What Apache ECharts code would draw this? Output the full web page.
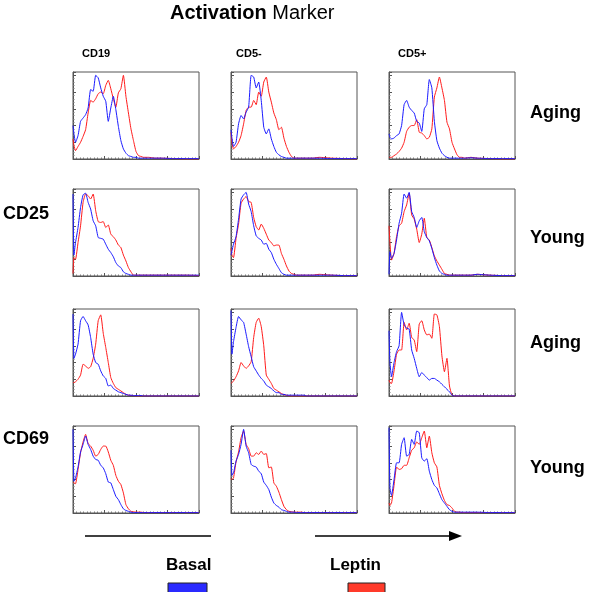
<!DOCTYPE html>
<html>
<head>
<meta charset="utf-8">
<script src="https://cdn.jsdelivr.net/npm/echarts@6/dist/echarts.min.js"></script>
<style>
html,body{margin:0;padding:0;background:#fff;}
#chart{width:600px;height:592px;}
</style>
</head>
<body>
<div id="chart"></div>
<script>
// ---- Data (x: fluorescence in log decades 0..4; y: relative count, peak = 100) ----
var decades = [0, 0.03, 0.08, 0.16, 0.24, 0.32, 0.40, 0.48, 0.56, 0.64, 0.72, 0.80, 0.88, 0.96, 1.04, 1.12, 1.20, 1.28, 1.36, 1.44, 1.52, 1.60, 1.68, 1.76, 1.84, 1.92, 2.00, 2.08, 2.16, 2.24, 2.32, 2.40, 2.60, 2.80, 3.20, 3.60, 4.00];

var columnLabels = ['CD19', 'CD5-', 'CD5+'];
var rowLabels = ['Aging', 'Young', 'Aging', 'Young'];
var markerLabels = ['CD25', 'CD69'];
var legendLabels = ['Basal', 'Leptin'];

// CD25 - Aging
var cd25AgingCD19Basal  = [40,30,20,28,45,49,53,61,83,81,100,97,85,75,69,45,61,75,59,39,22,12,7,4,3,2,2,1,1,1,1,1,1,1,0.5,0.5,0.5];
var cd25AgingCD19Leptin = [24,16,10,15,20,27,35,55,70,68,72,78,80,78,88,94,84,72,62,79,84,100,75,55,36,22,9,4,3,2,2,2,1,1,0.5,0,0];
var cd25AgingCD5nBasal  = [35,25,15,20,42,52,48,56,62,100,98,85,92,70,38,30,36,24,15,8,5,3,2,1,1,1,1,1,1,1,1,1,1,1,0.5,0.5,0.5];
var cd25AgingCD5nLeptin = [32,20,12,15,20,28,42,58,62,62,70,65,80,75,92,98,80,68,55,47,35,38,25,15,8,3,1,1,1,1,1,1,1,2,1,0.5,0];
var cd25AgingCD5pBasal  = [30,26,24,25,28,30,40,65,70,62,58,55,45,43,33,60,65,95,85,45,22,13,7,4,2,1,1,1,1,1,1,1,1.5,1,0.5,0.5,0.5];
var cd25AgingCD5pLeptin = [2,2,2,4,6,9,13,20,33,38,40,40,47,32,31,28,24,26,36,74,85,98,85,70,44,36,20,12,5,2,2,1,2,1,0.5,0,0];
// CD25 - Young
var cd25YoungCD19Basal  = [98,25,40,58,82,97,99,88,80,66,60,46,45,44,38,32,28,23,16,12,10,5,3,2,1,1,1,1,1,1,1,1,1,1,1,1,1];
var cd25YoungCD19Leptin = [3,22,20,40,60,88,98,96,92,98,78,65,64,65,58,61,50,47,43,37,34,25,18,10,5,1,1,1,1,1,1,1,1,1,1,1,0.5];
var cd25YoungCD5nBasal  = [25,30,38,47,68,92,97,100,86,77,60,48,45,43,38,39,32,28,20,14,9,4,2,1,1,1,1,1,1,1,1,1,1,1,1,0.5,0.5];
var cd25YoungCD5nLeptin = [33,25,22,45,62,87,92,95,89,88,70,59,55,62,57,50,43,40,36,37,37,27,20,12,6,3,2,1,1,1,1,1,1,2,1,0.5,0.5];
var cd25YoungCD5pBasal  = [2,29,21,27,43,63,75,98,93,100,77,70,58,66,70,53,46,42,33,22,13,6,3,2,1,1,1,1,1,1,1,1,1,2,1,0.5,0.5];
var cd25YoungCD5pLeptin = [60,40,19,27,47,60,63,77,85,99,73,68,56,40,50,69,46,43,34,24,18,13,8,3,2,1,1,1,1,1,1,1,1,2,1,0.5,0.5];
// CD69 - Aging
var cd69AgingCD19Basal  = [98,45,50,62,90,95,90,85,70,50,40,38,30,24,21,12,13,9,7,5,4,3,2,1,1,0.5,0.5,0.5,0.5,0,0,0,0,0,0,0,0];
var cd69AgingCD19Leptin = [16,16,17,20,25,38,36,33,35,45,62,90,97,75,58,40,22,15,10,8,6,4,2,1,0.5,0.5,0,0,0,0,0,0,0,0,0,0,0];
var cd69AgingCD5nBasal  = [102,50,65,82,95,91,88,74,59,47,35,30,25,21,18,13,11,9,6,4,4,2,2,1,1,1,1,1,1,1,1,0,0,0,0,0,0];
var cd69AgingCD5nLeptin = [15,16,18,23,30,40,36,33,36,41,70,88,93,83,60,25,20,15,9,7,5,3,1.5,1,0,0,0,0,0,0,0,0,0,0,0,0,0];
var cd69AgingCD5pBasal  = [78,40,23,40,53,60,100,85,81,80,55,45,33,23,28,25,22,19,21,21,19,17,14,11,8,5,1,0,0,0,0,0,0,0,0,0,0];
var cd69AgingCD5pLeptin = [19,16,15,30,50,55,55,88,79,87,70,67,53,86,90,79,73,74,69,98,97,83,48,29,45,12,1,0,0,0,0,0,0,0,0,0,0];
// CD69 - Young
var cd69YoungCD19Basal  = [100,38,42,55,73,82,92,82,76,68,64,63,57,54,47,37,36,28,20,16,10,5,3,2,1,0.5,0.5,0.5,0.5,0.5,0.5,0.5,0.5,0.5,0.5,0.5,0.5];
var cd69YoungCD19Leptin = [37,36,35,52,72,85,94,83,80,75,68,70,76,80,80,73,63,57,45,38,34,24,10,5,2,1.5,1,1,1,0.5,0.5,0.5,0.5,0.5,0.5,0.5,0.5];
var cd69YoungCD5nBasal  = [75,45,48,62,70,82,100,80,72,58,56,55,50,47,37,33,28,19,12,9,7,4,3,2,1,1,1,0.5,0.5,0.5,0.5,0.5,0.5,0.5,0.5,0.5,0.5];
var cd69YoungCD5nLeptin = [41,40,42,61,73,90,98,82,77,68,68,72,70,74,70,71,54,55,36,32,25,16,8,4,2,1.5,1,1,1,1,0.5,0.5,0.5,0.5,0.5,0.5,0.5];
var cd69YoungCD5pBasal  = [102,30,21,40,60,60,82,90,68,70,88,82,98,96,66,62,65,50,40,33,30,23,16,12,8,4,2,1,1,1,1,1,1,1,0.5,0.5,0.5];
var cd69YoungCD5pLeptin = [12,9,12,33,55,52,53,57,57,66,75,78,85,82,90,98,78,92,72,60,55,33,23,15,10,9,6,2,1,1,0.5,0.5,0.5,0.5,0.5,0.5,0.5];

var panelRows = [
  [[cd25AgingCD19Basal, cd25AgingCD19Leptin], [cd25AgingCD5nBasal, cd25AgingCD5nLeptin], [cd25AgingCD5pBasal, cd25AgingCD5pLeptin]],
  [[cd25YoungCD19Basal, cd25YoungCD19Leptin], [cd25YoungCD5nBasal, cd25YoungCD5nLeptin], [cd25YoungCD5pBasal, cd25YoungCD5pLeptin]],
  [[cd69AgingCD19Basal, cd69AgingCD19Leptin], [cd69AgingCD5nBasal, cd69AgingCD5nLeptin], [cd69AgingCD5pBasal, cd69AgingCD5pLeptin]],
  [[cd69YoungCD19Basal, cd69YoungCD19Leptin], [cd69YoungCD5nBasal, cd69YoungCD5nLeptin], [cd69YoungCD5pBasal, cd69YoungCD5pLeptin]]
];

// ---- Layout ----
var colLeft = [73, 231, 389];
var rowTop = [72, 189, 309, 426];
var panelW = 126, panelH = 87;
var blue = '#1a1aff', red = '#ff1a1a', frame = '#555';
var font = '"Liberation Sans", Arial, sans-serif';

var grids = [], xAxes = [], yAxes = [], series = [];
var idx = 0;
for (var r = 0; r < 4; r++) {
  for (var c = 0; c < 3; c++) {
    grids.push({left: colLeft[c], top: rowTop[r], width: panelW, height: panelH,
      show: true, borderColor: frame, borderWidth: 1, backgroundColor: '#fff'});
    xAxes.push({gridIndex: idx, type: 'value', min: 0, max: 4, interval: 1,
      axisLine: {show: true, lineStyle: {color: frame, width: 1}},
      axisTick: {show: true, inside: true, length: 3, lineStyle: {color: frame}},
      minorTick: {show: true, splitNumber: 9, length: 1.5, lineStyle: {color: '#777'}},
      axisLabel: {show: false}, splitLine: {show: false}});
    yAxes.push({gridIndex: idx, type: 'value', min: 0, max: 104, interval: 20,
      axisLine: {show: true, lineStyle: {color: frame, width: 1}},
      axisTick: {show: true, inside: true, length: 3, lineStyle: {color: frame}},
      minorTick: {show: true, splitNumber: 5, length: 1.5, lineStyle: {color: '#777'}},
      axisLabel: {show: false}, splitLine: {show: false}});
    var pair = panelRows[r][c];
    [[pair[0], blue, legendLabels[0]], [pair[1], red, legendLabels[1]]].forEach(function (s, k) {
      series.push({type: 'line', name: s[2], xAxisIndex: idx, yAxisIndex: idx,
        data: decades.map(function (x, i) { return [x, s[0][i]]; }),
        showSymbol: false, symbol: 'none', smooth: 0.15,
        lineStyle: {color: s[1], width: 1}, z: k === 0 ? 3 : 2, animation: false});
    });
    idx++;
  }
}

var graphics = [];
function txt(x, y, text, size, weight) {
  return {type: 'text', left: x, top: y, silent: true,
    style: {text: text, font: (weight || 'bold') + ' ' + size + 'px ' + font, fill: '#000'}};
}
graphics.push({type: 'text', left: 170, top: 3, silent: true,
  style: {text: '{b|Activation} Marker', font: 'normal 20px ' + font, fill: '#000',
    rich: {b: {fontWeight: 'bold', fontSize: 20, fontFamily: font}}}});
var colLabelX = [82, 236, 398];
columnLabels.forEach(function (t, i) { graphics.push(txt(colLabelX[i], 48, t, 11)); });
var rowLabelY = [104, 229, 334, 459];
rowLabels.forEach(function (t, i) { graphics.push(txt(530, rowLabelY[i], t, 18)); });
var markerY = [205, 430];
markerLabels.forEach(function (t, i) { graphics.push(txt(3, markerY[i], t, 18)); });
// bottom axis indicators
graphics.push({type: 'line', silent: true, shape: {x1: 85, y1: 536, x2: 211, y2: 536}, style: {stroke: '#000', lineWidth: 1.3}});
graphics.push({type: 'line', silent: true, shape: {x1: 315, y1: 536, x2: 452, y2: 536}, style: {stroke: '#000', lineWidth: 1.3}});
graphics.push({type: 'polygon', silent: true, shape: {points: [[449, 531], [462, 536], [449, 541]]}, style: {fill: '#000'}});
// legend
graphics.push(txt(166, 557, legendLabels[0], 17));
graphics.push(txt(330, 557, legendLabels[1], 17));
graphics.push({type: 'rect', silent: true, shape: {x: 168, y: 583, width: 39, height: 10}, style: {fill: '#2a2aff', stroke: '#222', lineWidth: 1}});
graphics.push({type: 'rect', silent: true, shape: {x: 348, y: 583, width: 37, height: 10}, style: {fill: '#ff3a2a', stroke: '#222', lineWidth: 1}});

var chart = echarts.init(document.getElementById('chart'), null, {renderer: 'canvas'});
chart.setOption({
  animation: false,
  backgroundColor: '#fff',
  grid: grids, xAxis: xAxes, yAxis: yAxes, series: series,
  graphic: graphics
});
</script>
</body>
</html>
